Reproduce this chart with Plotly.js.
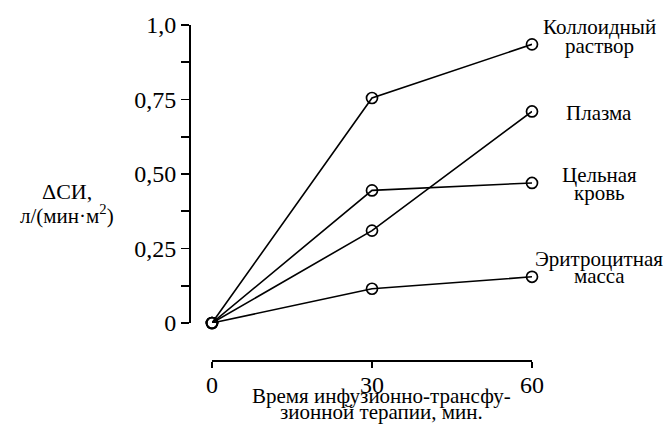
<!DOCTYPE html>
<html lang="ru"><head><meta charset="utf-8">
<script src="https://cdn.plot.ly/plotly-3.0.1.min.js"></script>
<style>html,body{margin:0;padding:0;background:#fff}</style>
</head><body><div id="chart" style="width:671px;height:425px"></div>
<script>
// Data
const timeMin = [0, 30, 60];
const colloid = [0, 0.755, 0.935];
const plasma = [0, 0.31, 0.71];
const wholeBlood = [0, 0.445, 0.47];
const rbcMass = [0, 0.115, 0.155];
const seriesNames = ["Коллоидный раствор", "Плазма", "Цельная кровь", "Эритроцитная масса"];
const seriesLabelLines = [["Коллоидный", "раствор"], ["Плазма"], ["Цельная", "кровь"], ["Эритроцитная", "масса"]];
const seriesValues = [colloid, plasma, wholeBlood, rbcMass];
const yTickVals = [0, 0.125, 0.25, 0.375, 0.5, 0.625, 0.75, 0.875, 1.0];
const yTickText = ["0", "", "0,25", "", "0,50", "", "0,75", "", "1,0"];
const xTickVals = [0, 30, 60];
const xTickText = ["0", "30", "60"];
const xTitleLines = ["Время инфузионно-трансфу-", "зионной терапии, мин."];
const yTitleLines = ["ΔСИ,", "л/(мин·м<sup>2</sup>)"];

const FONT = "Liberation Serif";
const traces = seriesValues.map((v, i) => ({
  x: timeMin, y: v, type: "scatter", mode: "lines+markers", name: seriesNames[i],
  line: {color: "#000", width: 1.6},
  marker: {symbol: "circle-open", size: 11, color: "#000", line: {width: 1.7, color: "#000"}},
  cliponaxis: false, showlegend: false, hoverinfo: "skip"
}));
// helper trace on overlay axis for the end caps of the x axis
traces.push({x: [0], y: [0], xaxis: "x2", yaxis: "y", mode: "markers", marker: {opacity: 0}, showlegend: false, hoverinfo: "skip"});

const xDom = [212/671, 532/671];
function txt(px, py, t, fs) {
  return {xref: "paper", yref: "paper", x: px/671, y: 1 - py/425, text: t,
    showarrow: false, xanchor: "center", yanchor: "middle", font: {family: FONT, size: fs, color: "#000"}};
}
// label line centres (pixel y) for each series label
const labelPixelY = [[27, 46], [113], [175, 193], [259, 276]];
const annotations = [];
seriesLabelLines.forEach((lines, i) => lines.forEach((l, j) => annotations.push(txt(599, labelPixelY[i][j], l, 21))));
annotations.push(txt(381, 396, xTitleLines[0], 21));
annotations.push(txt(381, 412, xTitleLines[1], 21));
annotations.push(txt(67, 191, yTitleLines[0], 22));
annotations.push(txt(67, 214, yTitleLines[1], 21));

const layout = {
  width: 671, height: 425, margin: {l: 0, r: 0, t: 0, b: 0},
  paper_bgcolor: "#fff", plot_bgcolor: "rgba(0,0,0,0)",
  font: {family: FONT, color: "#000"},
  xaxis: {domain: xDom, range: [0, 60], anchor: "free", position: (425-360)/425,
    showline: true, linecolor: "#000", linewidth: 1.6, ticks: "outside", ticklen: 6, tickwidth: 1.6, tickcolor: "#000",
    tickvals: xTickVals, ticktext: xTickText, showgrid: false, zeroline: false, ticklabelstandoff: -3,
    tickfont: {family: FONT, size: 24, color: "#000"}, automargin: false},
  xaxis2: {domain: xDom, range: [0, 60], anchor: "free", position: (425-360)/425, overlaying: "x",
    showline: false, ticks: "inside", ticklen: 8, tickwidth: 1.6, tickcolor: "#000",
    tickvals: [0, 60], showticklabels: false, showgrid: false, zeroline: false},
  yaxis: {domain: [(425-323)/425, (425-25)/425], range: [0, 1], anchor: "free", position: 189/671,
    showline: true, linecolor: "#000", linewidth: 1.6, ticks: "outside", ticklen: 8, tickwidth: 1.6, tickcolor: "#000",
    tickvals: yTickVals, ticktext: yTickText, showgrid: false, zeroline: false,
    tickfont: {family: FONT, size: 24, color: "#000"}, automargin: false},
  annotations: annotations
};
Plotly.newPlot("chart", traces, layout, {staticPlot: true});
</script></body></html>
